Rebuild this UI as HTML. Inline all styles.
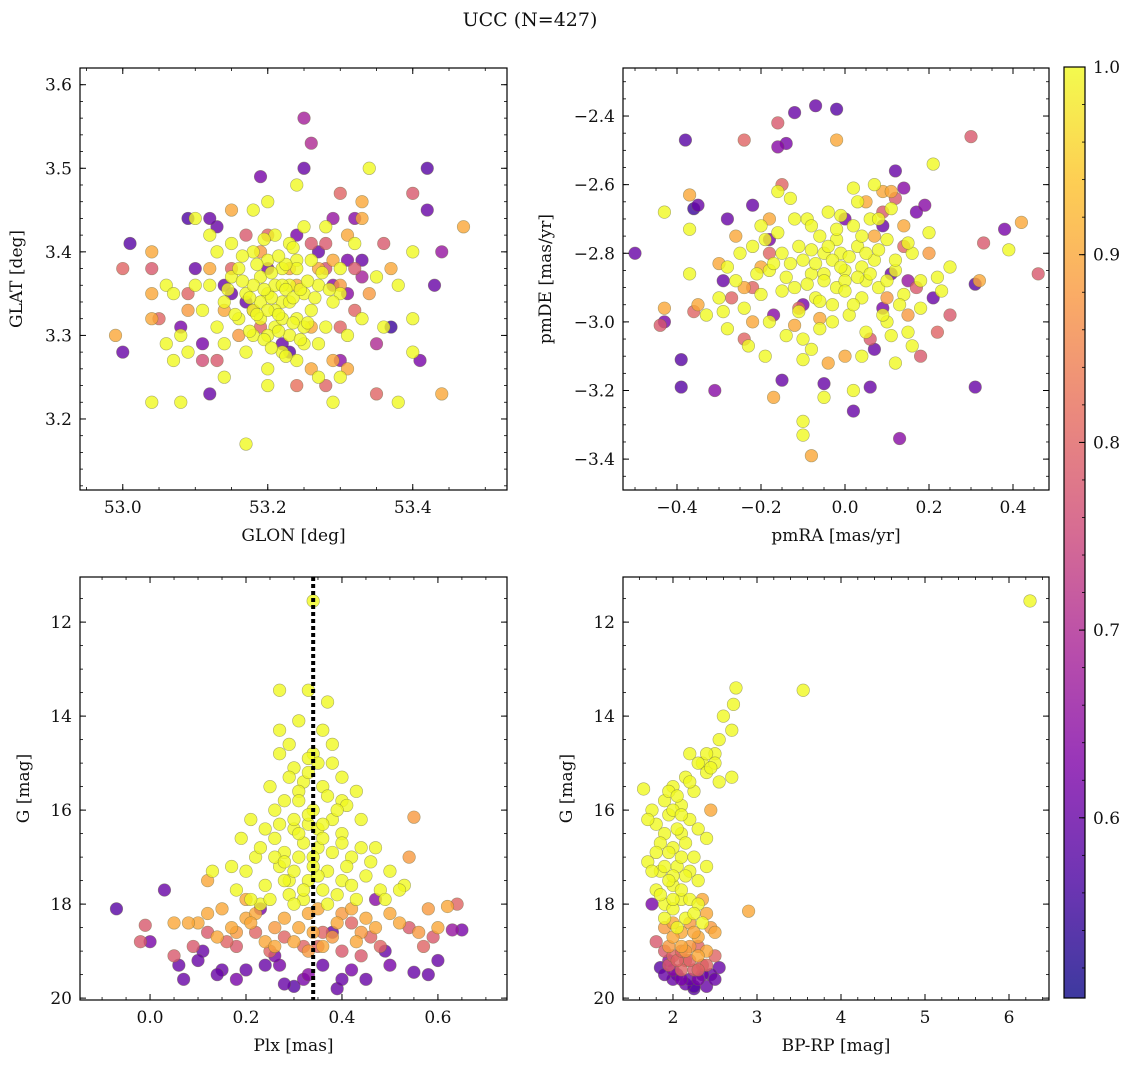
<!DOCTYPE html>
<html><head><meta charset="utf-8"><style>
body{margin:0;background:#fff;}
svg text{font-family:"DejaVu Serif","Liberation Serif",serif;fill:#111;}
</style></head><body>
<svg id="fig" width="1136" height="1067" xmlns="http://www.w3.org/2000/svg">
<text x="530" y="26" font-size="19" text-anchor="middle">UCC (N=427)</text>
<defs><linearGradient id="cbg" x1="0" y1="1" x2="0" y2="0">
<stop offset="0" stop-color="#0d0887"/><stop offset="0.13" stop-color="#4c02a1"/><stop offset="0.25" stop-color="#7e03a8"/><stop offset="0.38" stop-color="#a92395"/><stop offset="0.5" stop-color="#cc4778"/><stop offset="0.63" stop-color="#e66c5c"/><stop offset="0.75" stop-color="#f89540"/><stop offset="0.88" stop-color="#fdc328"/><stop offset="1" stop-color="#f0f921"/>
</linearGradient></defs>
</svg>
<script>
// Panel 1: GLON / GLAT / prob
const p1glon=[53.01,53.0,53.09,53.10,53.08,53.13,53.19,53.25,53.26,53.25,53.31,53.37,53.41,53.42,53.42,53.43,53.44,53.12,53.32,53.29,53.33,53.35,53.11,53.15,53.30,53.22,
53.04,53.0,53.05,53.13,53.11,53.30,53.40,53.35,53.28,53.24,53.18,53.20,53.28,53.32,
53.04,53.04,53.04,52.99,53.30,53.44,53.47,53.33,53.29,53.26,53.15,53.37,
53.17,53.04,53.08,53.24,53.34,53.38,53.40,53.40,53.40,53.06,53.09,53.12,53.24,53.29,53.30,53.30,53.20,53.10,53.14,53.18,53.23,
53.18,53.20,53.22,53.21,53.19,53.23,53.24,53.17,53.25,53.20,53.22,53.18,53.26,53.16,53.21,53.19,53.23,53.24,53.27,53.15,53.20,53.22,53.25,53.17,53.28,53.14,53.21,53.19,53.23,53.26,53.18,53.29,53.13,53.24,53.16,53.27,53.21,53.20,53.12,53.30,53.22,53.18,53.25,53.20,53.22,
53.205,53.215,53.195,53.225,53.235,53.185,53.245,53.175,53.205,53.215,53.235,53.195,53.255,53.165,53.225,53.265,53.155,53.185,53.245,53.205,53.275,53.145,53.215,53.235,53.195,53.255,53.175,53.285,53.165,53.225,53.07,53.08,53.10,53.11,53.13,53.14,53.06,53.32,53.31,53.33,53.35,53.36,53.28,53.20,53.25,53.15,53.07,53.27,53.38,
53.23,53.27,53.16,53.26,53.29,53.19,53.31,53.12,53.24,53.34,53.14,53.31,53.33,53.09,
53.28,53.19,53.32,53.15,53.17,53.30,53.26,53.09,53.36,
53.27,53.20,53.14,53.29,53.24,53.33,53.17,53.31,53.12,53.23];
const p1glat=[3.41,3.28,3.44,3.38,3.31,3.43,3.49,3.56,3.53,3.50,3.39,3.31,3.27,3.45,3.50,3.36,3.40,3.23,3.44,3.44,3.37,3.29,3.29,3.35,3.27,3.29,
3.38,3.38,3.32,3.27,3.27,3.47,3.47,3.23,3.24,3.24,3.33,3.42,3.38,3.33,
3.40,3.35,3.32,3.30,3.36,3.23,3.43,3.44,3.27,3.26,3.45,3.38,
3.17,3.22,3.22,3.48,3.50,3.22,3.28,3.32,3.40,3.36,3.28,3.42,3.39,3.22,3.35,3.25,3.24,3.44,3.25,3.45,3.41,
3.33,3.35,3.34,3.31,3.37,3.36,3.32,3.35,3.35,3.30,3.38,3.30,3.33,3.32,3.36,3.34,3.30,3.38,3.36,3.37,3.39,3.28,3.29,3.28,3.31,3.34,3.33,3.32,3.34,3.39,3.40,3.34,3.31,3.27,3.38,3.29,3.42,3.26,3.36,3.38,3.32,3.36,3.31,3.33,3.36,
3.345,3.325,3.355,3.355,3.345,3.325,3.355,3.345,3.375,3.305,3.315,3.295,3.365,3.365,3.385,3.345,3.325,3.385,3.295,3.285,3.375,3.355,3.395,3.405,3.415,3.315,3.305,3.355,3.395,3.275,3.35,3.30,3.36,3.33,3.40,3.29,3.29,3.41,3.30,3.32,3.37,3.31,3.43,3.46,3.43,3.41,3.27,3.25,3.36,
3.38,3.38,3.30,3.31,3.39,3.40,3.42,3.38,3.36,3.35,3.33,3.26,3.46,3.33,
3.41,3.31,3.38,3.38,3.42,3.31,3.41,3.35,3.41,
3.40,3.38,3.36,3.36,3.42,3.39,3.34,3.35,3.44,3.28];
const p1prob=[0.58,0.6,0.57,0.6,0.62,0.6,0.62,0.68,0.7,0.6,0.62,0.55,0.62,0.6,0.58,0.6,0.66,0.6,0.64,0.66,0.68,0.7,0.62,0.6,0.65,0.6,
0.78,0.8,0.8,0.78,0.76,0.8,0.78,0.8,0.8,0.82,0.78,0.8,0.76,0.8,
0.9,0.9,0.9,0.9,0.88,0.9,0.9,0.9,0.9,0.9,0.9,0.9,
1,1,1,1,1,1,1,1,1,1,1,1,1,1,1,1,1,1,1,1,1,
1,1,1,1,1,1,1,1,1,1,1,1,1,1,1,1,1,1,1,1,1,1,1,1,1,1,1,1,1,1,1,1,1,1,1,1,1,1,1,1,1,1,1,1,1,
1,1,1,1,1,1,1,1,1,1,1,1,1,1,1,1,1,1,1,1,1,1,1,1,1,1,1,1,1,1,1,1,1,1,1,1,1,1,1,1,1,1,1,1,1,1,1,1,1,
0.9,0.9,0.88,0.9,0.9,0.88,0.9,0.9,0.9,0.88,0.9,0.9,0.9,0.88,
0.78,0.8,0.78,0.8,0.78,0.8,0.78,0.8,0.78,
0.6,0.62,0.6,0.64,0.62,0.6,0.6,0.64,0.6,0.58];

// Panel 2: pmRA / pmDE / prob
const p2pmra=[-0.50,-0.38,-0.36,-0.35,-0.39,-0.39,-0.43,-0.15,-0.05,0.02,0.06,0.13,-0.12,-0.07,-0.02,-0.14,0.14,0.12,0.17,0.15,0.31,0.31,0.38,0.07,0.09,-0.31,-0.22,-0.18,-0.29,-0.16,0.19,
-0.16,-0.24,0.30,0.33,0.46,-0.44,-0.36,-0.24,0.18,0.22,0.12,0.14,-0.18,-0.22,
-0.43,-0.37,-0.02,0.42,0.32,-0.08,0.05,-0.24,-0.17,0.09,0.14,-0.04,0.00,
-0.43,-0.37,-0.10,-0.10,0.21,0.39,-0.05,0.02,0.15,0.22,0.25,-0.37,-0.29,-0.28,-0.10,0.10,0.07,
-0.05,0.00,-0.08,0.03,-0.02,-0.10,0.05,-0.06,0.02,-0.12,0.07,-0.03,-0.15,0.10,-0.09,0.04,-0.14,-0.01,0.08,-0.07,0.12,-0.18,-0.04,0.01,-0.11,0.06,-0.20,0.14,-0.16,-0.02,0.09,-0.13,0.03,-0.06,-0.22,0.16,-0.08,0.00,-0.05,0.04,-0.24,0.18,-0.10,0.11,-0.28,-0.18,0.20,
-0.03,-0.01,-0.05,0.01,-0.07,0.03,-0.04,0.00,-0.09,0.05,-0.02,-0.06,0.06,-0.11,0.02,-0.13,0.08,-0.03,-0.08,0.04,-0.15,0.10,-0.17,0.12,-0.01,-0.19,0.13,-0.12,-0.21,0.15,-0.25,-0.26,0.18,-0.14,0.05,-0.20,0.08,-0.30,0.23,-0.16,0.02,0.11,-0.33,-0.23,0.16,-0.08,0.04,-0.19,0.12,
-0.20,-0.26,0.10,-0.12,0.07,-0.30,0.20,0.11,-0.06,-0.22,0.15,-0.18,-0.35,
0.09,-0.11,0.17,-0.27,0.06,-0.15,0.25,
-0.10,0.11,-0.28,0.00,0.21,-0.17,0.09];
const p2pmde=[-2.80,-2.47,-2.67,-2.66,-3.11,-3.19,-3.00,-3.17,-3.18,-3.26,-3.19,-3.34,-2.39,-2.37,-2.38,-2.48,-2.61,-2.56,-2.68,-2.88,-2.89,-3.19,-2.73,-3.08,-2.96,-3.20,-2.66,-2.76,-2.88,-2.49,-2.66,
-2.42,-2.47,-2.46,-2.77,-2.86,-3.01,-2.97,-3.05,-3.10,-3.03,-2.64,-2.78,-2.80,-2.90,
-2.96,-2.63,-2.47,-2.71,-2.88,-3.39,-2.65,-2.90,-3.22,-2.62,-2.72,-3.12,-3.10,
-2.68,-2.73,-3.29,-3.33,-2.54,-2.79,-3.22,-3.20,-3.03,-2.87,-2.84,-2.86,-2.97,-3.02,-3.11,-3.00,-2.60,
-2.80,-2.85,-2.86,-2.78,-2.90,-2.82,-2.88,-2.75,-2.72,-2.90,-2.82,-2.95,-2.80,-2.76,-2.70,-2.93,-2.87,-2.80,-2.90,-2.93,-2.85,-2.85,-2.68,-2.98,-2.97,-2.70,-2.92,-2.92,-2.74,-2.76,-2.98,-2.64,-2.65,-3.02,-2.78,-2.80,-2.79,-2.88,-2.86,-2.84,-2.96,-2.96,-3.05,-3.04,-2.84,-3.00,-2.74,
-2.82,-2.84,-2.88,-2.81,-2.83,-2.87,-2.78,-2.91,-2.89,-2.80,-2.73,-2.94,-2.86,-2.78,-2.95,-2.83,-2.79,-3.00,-2.72,-2.75,-2.91,-2.88,-2.83,-2.82,-2.69,-2.76,-2.95,-2.70,-2.86,-2.77,-2.80,-2.88,-2.88,-3.04,-3.03,-2.72,-2.70,-2.93,-2.91,-2.62,-2.61,-2.67,-2.98,-3.07,-3.07,-3.08,-3.10,-3.10,-3.12,
-2.84,-2.75,-2.93,-3.01,-2.75,-2.83,-2.80,-2.62,-2.99,-3.00,-2.98,-2.70,-2.95,
-2.68,-2.96,-2.90,-2.93,-3.05,-2.60,-2.98,
-2.95,-2.86,-2.70,-2.70,-2.93,-2.98,-2.72];
const p2prob=[0.6,0.58,0.55,0.6,0.58,0.58,0.62,0.6,0.6,0.6,0.6,0.64,0.6,0.6,0.58,0.62,0.64,0.6,0.62,0.66,0.58,0.6,0.62,0.6,0.62,0.64,0.6,0.62,0.6,0.64,0.64,
0.78,0.8,0.78,0.78,0.78,0.78,0.8,0.8,0.78,0.8,0.78,0.8,0.8,0.8,
0.9,0.9,0.9,0.9,0.9,0.9,0.9,0.9,0.9,0.9,0.9,0.9,0.9,
1,1,1,1,1,1,1,1,1,1,1,1,1,1,1,1,1,
1,1,1,1,1,1,1,1,1,1,1,1,1,1,1,1,1,1,1,1,1,1,1,1,1,1,1,1,1,1,1,1,1,1,1,1,1,1,1,1,1,1,1,1,1,1,1,
1,1,1,1,1,1,1,1,1,1,1,1,1,1,1,1,1,1,1,1,1,1,1,1,1,1,1,1,1,1,1,1,1,1,1,1,1,1,1,1,1,1,1,1,1,1,1,1,1,
0.9,0.9,0.88,0.9,0.9,0.9,0.88,0.9,0.9,0.9,0.88,0.9,0.9,
0.78,0.8,0.78,0.8,0.78,0.8,0.78,
0.62,0.6,0.6,0.62,0.6,0.64,0.6];

// Panel 3: Plx / G / prob
const p3plx=[-0.07,0.03,0.00,0.06,0.07,0.15,0.28,0.30,0.39,0.42,0.55,0.60,0.63,0.65,0.38,0.27,0.20,0.11,0.49,0.47,0.36,0.32,0.23,
0.54,0.64,0.59,0.46,-0.01,-0.02,0.16,0.22,0.35,0.42,0.05,0.25,
0.55,0.54,0.12,0.20,0.10,0.58,0.62,0.05,0.45,0.20,0.26,0.33,0.39,0.44,0.30,0.15,0.50,0.36,0.24,0.17,0.42,0.34,
0.34,0.27,0.33,0.37,0.19,0.13,0.53,0.40,
0.30,0.32,0.36,0.28,0.34,0.38,0.30,0.26,0.40,0.35,0.31,0.27,0.42,0.37,0.33,0.24,0.45,0.29,0.39,0.22,0.47,0.34,0.29,0.38,0.25,0.41,0.21,0.44,0.33,0.36,0.28,0.32,0.43,0.18,0.50,0.48,0.23,0.30,0.36,0.31,0.27,0.40,0.35,0.26,0.29,
0.33,0.35,0.31,0.37,0.29,0.33,0.39,0.27,0.36,0.32,0.30,0.34,0.38,0.26,0.41,0.30,0.35,0.23,0.44,0.28,0.40,0.46,0.20,0.32,0.37,0.25,0.42,0.49,0.17,0.21,0.52,0.33,0.38,0.31,0.27,0.43,0.24,0.36,0.40,0.28,0.34,0.31,
0.22,0.28,0.35,0.40,0.47,0.52,0.18,0.12,0.08,0.31,0.38,0.26,0.43,0.56,0.60,0.14,0.33,0.21,
0.18,0.28,0.40,0.48,0.09,0.32,0.44,0.57,0.12,0.36,
0.10,0.18,0.24,0.33,0.45,0.50,0.58,0.40,0.26,0.14];
const p3g=[18.1,17.7,18.8,19.3,19.6,19.4,19.7,19.75,19.8,19.4,19.45,19.2,18.55,18.55,18.6,19.3,19.4,19.0,19.0,17.9,19.3,19.6,18.1,
18.5,18.0,18.7,18.7,18.45,18.8,18.8,18.6,18.9,18.4,19.1,19.0,
16.15,17.0,17.5,17.9,18.4,18.1,18.05,18.4,18.3,18.3,18.5,18.2,18.4,18.6,18.8,18.1,18.2,18.9,18.8,18.5,18.1,18.6,
11.55,13.45,13.45,13.7,16.6,17.3,17.6,15.8,
15.1,15.4,15.5,15.8,16.0,16.2,16.4,16.6,16.5,16.8,17.0,17.2,17.0,17.3,17.5,17.6,17.4,17.8,17.8,17.0,16.8,14.8,14.6,15.0,15.5,15.9,16.2,16.2,16.3,17.7,16.9,17.9,17.9,17.7,17.3,17.7,18.0,18.0,14.3,14.1,14.3,15.3,16.4,16.0,17.5,
15.2,15.0,15.6,15.7,15.3,16.1,16.0,16.3,16.6,16.7,16.2,17.0,16.9,17.0,17.2,17.3,17.4,16.8,16.8,17.5,17.5,17.1,17.3,17.7,18.0,17.9,17.6,17.9,17.2,17.9,17.7,14.9,14.6,15.8,14.8,15.6,16.4,16.3,16.7,17.1,17.2,16.5,
18.2,18.3,18.1,18.2,18.5,18.4,18.6,18.2,18.4,18.5,18.7,18.9,18.8,18.6,18.5,18.7,19.0,18.4,
18.9,18.7,19.0,18.9,18.9,18.9,19.1,18.9,18.6,18.6,
19.2,19.6,19.3,19.5,19.6,19.3,19.5,19.6,19.1,19.5];
const p3prob=[0.58,0.6,0.62,0.6,0.6,0.6,0.6,0.58,0.6,0.62,0.6,0.6,0.66,0.62,0.6,0.62,0.6,0.6,0.6,0.64,0.6,0.62,0.62,
0.78,0.8,0.78,0.8,0.78,0.78,0.8,0.8,0.8,0.8,0.78,0.8,
0.88,0.88,0.9,0.9,0.9,0.88,0.9,0.9,0.9,0.9,0.88,0.9,0.9,0.88,0.9,0.9,0.9,0.9,0.9,0.9,0.9,0.9,
1,1,1,1,1,1,1,1,
1,1,1,1,1,1,1,1,1,1,1,1,1,1,1,1,1,1,1,1,1,1,1,1,1,1,1,1,1,1,1,1,1,1,1,1,1,1,1,1,1,1,1,1,1,
1,1,1,1,1,1,1,1,1,1,1,1,1,1,1,1,1,1,1,1,1,1,1,1,1,1,1,1,1,1,1,1,1,1,1,1,1,1,1,1,1,1,
0.9,0.9,0.9,0.88,0.9,0.9,0.88,0.9,0.9,0.9,0.88,0.9,0.9,0.88,0.9,0.9,0.88,0.9,
0.78,0.8,0.78,0.8,0.78,0.8,0.78,0.8,0.78,0.8,
0.6,0.62,0.6,0.64,0.6,0.62,0.6,0.6,0.62,0.6];

// Panel 4: BP-RP / G / prob
const p4bprp=[6.25,3.55,2.75,2.72,2.6,2.55,2.5,2.7,2.35,2.4,2.2,2.15,2.0,1.65,1.75,1.8,1.9,2.0,1.7,1.85,2.0,2.1,2.2,2.3,2.1,1.95,2.05,2.25,2.7,2.4,1.8,1.9,2.15,2.3,2.0,2.1,2.5,
1.9,2.0,2.1,1.85,1.95,2.05,2.15,1.8,1.9,2.0,2.1,2.2,1.85,1.95,2.1,2.2,2.3,2.0,1.75,1.95,2.25,2.3,2.45,2.4,2.2,2.05,2.15,2.25,2.35,1.9,2.05,2.4,1.7,2.55,
2.9,2.45,2.35,2.4,1.9,2.1,2.3,2.2,1.95,2.4,2.5,2.1,2.2,2.0,2.25,2.45,2.3,2.0,2.15,
1.9,2.0,2.2,2.35,2.1,2.5,1.8,2.3,1.95,2.05,2.25,2.4,2.15,2.3,2.1,
1.75,1.85,2.05,2.15,2.25,2.4,2.55,2.3,2.0,1.95,2.45,1.9,2.1,2.2,2.35,2.0,2.5,2.25];
const p4g=[11.55,13.45,13.4,13.75,14.0,14.5,14.8,14.3,15.0,15.2,14.8,15.3,15.5,15.55,16.0,16.3,16.5,16.8,17.1,17.3,17.6,17.9,16.2,16.4,15.9,16.1,17.2,17.0,15.3,16.6,17.7,18.0,18.3,17.5,18.1,16.5,15.0,
15.8,16.0,16.1,16.7,16.9,16.4,16.7,16.9,17.2,17.4,17.0,17.3,17.8,17.5,17.7,17.9,18.0,17.9,17.3,15.6,15.6,15.0,15.1,14.8,15.4,15.7,17.4,18.2,18.4,18.3,18.5,17.2,16.2,15.4,
18.15,16.0,17.9,18.2,18.5,18.6,18.7,18.4,18.9,19.0,18.6,18.9,18.9,18.7,18.6,18.5,19.1,18.4,19.0,
19.0,19.1,19.2,19.3,19.4,19.1,18.8,18.9,19.3,19.2,19.4,19.3,19.2,19.4,19.0,
18.0,19.35,19.5,19.7,19.8,19.75,19.35,19.6,19.6,19.2,19.5,19.5,19.6,19.6,19.5,19.4,19.6,19.75];
const p4prob=[1,1,1,1,1,1,1,1,1,1,1,1,1,1,1,1,1,1,1,1,1,1,1,1,1,1,1,1,1,1,1,1,1,1,1,1,1,
1,1,1,1,1,1,1,1,1,1,1,1,1,1,1,1,1,1,1,1,1,1,1,1,1,1,1,1,1,1,1,1,1,1,
0.9,0.9,0.9,0.9,0.88,0.9,0.9,0.88,0.88,0.9,0.9,0.9,0.88,0.9,0.9,0.88,0.9,0.9,0.88,
0.78,0.8,0.8,0.78,0.8,0.8,0.78,0.8,0.78,0.8,0.78,0.8,0.78,0.8,0.8,
0.62,0.58,0.6,0.6,0.58,0.6,0.6,0.62,0.6,0.64,0.6,0.6,0.62,0.6,0.6,0.64,0.6,0.58];

const cbTicks=[0.6,0.7,0.8,0.9,1.0];
const CMIN=0.504,CMAX=1.0;
const NS="http://www.w3.org/2000/svg";
const svg=document.getElementById('fig');
const stops=[[0,[13,8,135]],[0.13,[76,2,161]],[0.25,[126,3,168]],[0.38,[169,35,149]],[0.5,[204,71,120]],[0.63,[230,108,92]],[0.75,[248,149,64]],[0.88,[253,195,40]],[1,[240,249,33]]];
function cmap(v){let t=(v-CMIN)/(CMAX-CMIN);t=Math.max(0,Math.min(1,t));
 for(let i=1;i<stops.length;i++){if(t<=stops[i][0]){const a=stops[i-1],b=stops[i];const f=(t-a[0])/(b[0]-a[0]);
  return 'rgb('+[0,1,2].map(k=>Math.round(a[1][k]+(b[1][k]-a[1][k])*f)).join(',')+')';}}
 return 'rgb(240,249,33)';}
function el(tag,attrs,parent){const e=document.createElementNS(NS,tag);for(const k in attrs)e.setAttribute(k,attrs[k]);(parent||svg).appendChild(e);return e;}
function fmt(v,d){let s=v.toFixed(d);return s.replace('-','\u2212');}

function panel(o){
 const g=el('g',{});
 
 
 const X=v=>o.x0+(v-o.xmin)/(o.xmax-o.xmin)*(o.x1-o.x0);
 const Y=o.inv?(v=>o.y0+(v-o.ymin)/(o.ymax-o.ymin)*(o.y1-o.y0)):(v=>o.y1-(v-o.ymin)/(o.ymax-o.ymin)*(o.y1-o.y0));
 const idx=o.xs.map((_,i)=>i).sort((a,b)=>o.ps[a]-o.ps[b]);
 const pg=el('g',{},g);
 for(const i of idx){
  const c=el('circle',{cx:X(o.xs[i]),cy:Y(o.ys[i]),r:6.3,fill:cmap(o.ps[i]),'fill-opacity':0.8,stroke:'#6b6b40','stroke-opacity':0.55,'stroke-width':0.6},pg);
  
  
 }
 if(o.vline!==undefined){
  const l=el('line',{x1:X(o.vline),x2:X(o.vline),y1:o.y0,y2:o.y1,stroke:'#000','stroke-width':4,'stroke-dasharray':'4,3'},g);
  
  
 }
 const fr=el('rect',{x:o.x0,y:o.y0,width:o.x1-o.x0,height:o.y1-o.y0,fill:'none',stroke:'#000','stroke-width':1.2},g);
 
 
 for(let v=Math.ceil(o.xmin/o.xminor-1e-6)*o.xminor;v<=o.xmax;v+=o.xminor){const px=X(v);
  el('line',{x1:px,x2:px,y1:o.y1,y2:o.y1-3,stroke:'#000','stroke-width':0.8},g);
  el('line',{x1:px,x2:px,y1:o.y0,y2:o.y0+3,stroke:'#000','stroke-width':0.8},g);}
 for(const v of o.xt){const px=X(v);
  el('line',{x1:px,x2:px,y1:o.y1,y2:o.y1-6,stroke:'#000','stroke-width':1},g);
  el('line',{x1:px,x2:px,y1:o.y0,y2:o.y0+6,stroke:'#000','stroke-width':1},g);
  const t=el('text',{x:px,y:o.y1+23,'font-size':17,'text-anchor':'middle'},g);t.textContent=fmt(v,o.xd);
  
  }
 for(let v=Math.ceil(o.ymin/o.yminor-1e-6)*o.yminor;v<=o.ymax;v+=o.yminor){const py=Y(v);
  el('line',{x1:o.x0,x2:o.x0+3,y1:py,y2:py,stroke:'#000','stroke-width':0.8},g);
  el('line',{x1:o.x1,x2:o.x1-3,y1:py,y2:py,stroke:'#000','stroke-width':0.8},g);}
 for(const v of o.yt){const py=Y(v);
  el('line',{x1:o.x0,x2:o.x0+6,y1:py,y2:py,stroke:'#000','stroke-width':1},g);
  el('line',{x1:o.x1,x2:o.x1-6,y1:py,y2:py,stroke:'#000','stroke-width':1},g);
  const t=el('text',{x:o.x0-8,y:py+6,'font-size':17,'text-anchor':'end'},g);t.textContent=fmt(v,o.yd);
  
  }
 const xl=el('text',{x:(o.x0+o.x1)/2,y:o.y1+51,'font-size':17,'text-anchor':'middle'},g);xl.textContent=o.xlab;
 
 
 const cy=(o.y0+o.y1)/2;
 const yl=el('text',{x:o.ylx,y:cy,'font-size':17,'text-anchor':'middle',transform:'rotate(-90 '+o.ylx+' '+cy+')'},g);yl.textContent=o.ylab;
 
 
}
panel({name:'glon-glat-panel',x0:80,x1:507,y0:68,y1:490,xmin:52.941,xmax:53.530,ymin:3.115,ymax:3.620,xs:p1glon,ys:p1glat,ps:p1prob,
 xt:[53.0,53.2,53.4],xminor:0.05,xd:1,yt:[3.2,3.3,3.4,3.5,3.6],yminor:0.02,yd:1,xlab:'GLON [deg]',ylab:'GLAT [deg]',ylx:22});
panel({name:'proper-motion-panel',x0:623,x1:1049,y0:68,y1:490,xmin:-0.5286,xmax:0.4857,ymin:-3.490,ymax:-2.260,xs:p2pmra,ys:p2pmde,ps:p2prob,
 xt:[-0.4,-0.2,0.0,0.2,0.4],xminor:0.05,xd:1,yt:[-3.4,-3.2,-3.0,-2.8,-2.6,-2.4],yminor:0.05,yd:1,xlab:'pmRA [mas/yr]',ylab:'pmDE [mas/yr]',ylx:551});
panel({name:'parallax-magnitude-panel',x0:80,x1:507,y0:577,y1:1000,xmin:-0.146,xmax:0.744,ymin:11.04,ymax:20.04,inv:true,xs:p3plx,ys:p3g,ps:p3prob,vline:0.34,
 xt:[0.0,0.2,0.4,0.6],xminor:0.05,xd:1,yt:[12,14,16,18,20],yminor:0.5,yd:0,xlab:'Plx [mas]',ylab:'G [mag]',ylx:29});
panel({name:'color-magnitude-panel',x0:623,x1:1049,y0:577,y1:1000,xmin:1.405,xmax:6.476,ymin:11.04,ymax:20.04,inv:true,xs:p4bprp,ys:p4g,ps:p4prob,
 xt:[2,3,4,5,6],xminor:0.2,xd:0,yt:[12,14,16,18,20],yminor:0.5,yd:0,xlab:'BP-RP [mag]',ylab:'G [mag]',ylx:572});

const cb=el('g',{});


const CY=v=>998-(v-CMIN)/(CMAX-CMIN)*(998-67);
el('rect',{x:1064,y:67,width:21,height:931,fill:'url(#cbg)','fill-opacity':0.8},cb);
el('rect',{x:1064,y:67,width:21,height:931,fill:'none',stroke:'#000','stroke-width':1.2},cb);
for(let v=0.52;v<1.0;v+=0.02){el('line',{x1:1085,x2:1082,y1:CY(v),y2:CY(v),stroke:'#000','stroke-width':0.8},cb);}
for(const v of cbTicks){el('line',{x1:1085,x2:1079,y1:CY(v),y2:CY(v),stroke:'#000','stroke-width':1},cb);
 const t=el('text',{x:1093,y:CY(v)+6,'font-size':17},cb);t.textContent=v.toFixed(1);
 
 }
</script>
</body></html>
